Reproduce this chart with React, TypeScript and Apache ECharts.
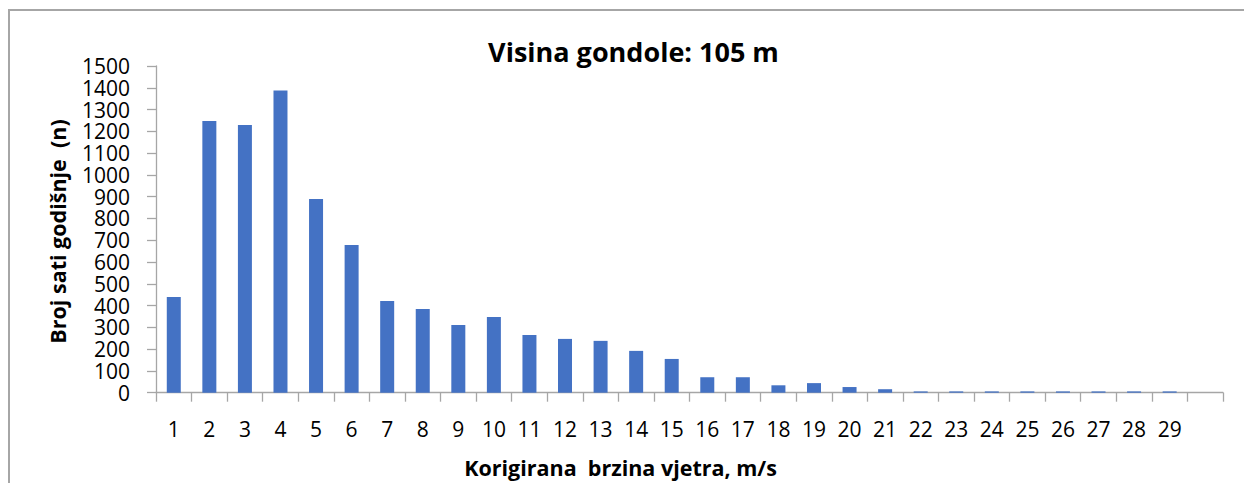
import React, { useEffect, useRef } from "react";
import * as echarts from "echarts";

const categories: string[] = [
  "1", "2", "3", "4", "5", "6", "7", "8", "9", "10",
  "11", "12", "13", "14", "15", "16", "17", "18", "19", "20",
  "21", "22", "23", "24", "25", "26", "27", "28", "29", "",
];
const hours: (number | null)[] = [
  439, 1247, 1229, 1387, 889, 678, 421, 384, 311, 347,
  265, 247, 238, 192, 155, 71, 71, 34, 44, 26,
  16, 6, 6, 6, 6, 6, 6, 6, 6, null,
];
const chartTitle = "Visina gondole: 105 m";
const xTitle = "Korigirana  brzina vjetra, m/s";
const yTitle = "Broj sati godišnje  (n)";

const FONT = "'Open Sans', Lato, sans-serif";
const AXIS_COLOR = "#a6a6a6";

export default function App() {
  const ref = useRef<HTMLDivElement>(null);
  useEffect(() => {
    if (!ref.current) return;
    const chart = echarts.init(ref.current, undefined, { renderer: "svg" });
    chart.setOption({
      animation: false,
      backgroundColor: "#ffffff",
      grid: { left: 148, top: 58, right: 21, bottom: 90.3, containLabel: false },
      xAxis: {
        type: "category",
        data: categories,
        boundaryGap: true,
        axisLine: { show: true, lineStyle: { color: AXIS_COLOR, width: 1.3 } },
        axisTick: {
          show: true,
          alignWithLabel: false,
          interval: 0,
          length: 9,
          lineStyle: { color: AXIS_COLOR, width: 1.3 },
        },
        axisLabel: {
          interval: 0,
          margin: 26,
          color: "#000",
          fontFamily: FONT,
          fontSize: 21,
        },
        splitLine: { show: false },
      },
      yAxis: {
        type: "value",
        min: 0,
        max: 1500,
        interval: 100,
        axisLine: { show: true, lineStyle: { color: AXIS_COLOR, width: 1.3 } },
        axisTick: { show: true, length: 9, lineStyle: { color: AXIS_COLOR, width: 1.3 } },
        axisLabel: {
          margin: 26,
          color: "#000",
          fontFamily: FONT,
          fontSize: 21,
          lineHeight: 20,
          formatter: (v: number) => String(v),
        },
        splitLine: { show: false },
      },
      series: [
        {
          type: "bar",
          data: hours,
          barWidth: 14,
          itemStyle: { color: "#4472c4" },
        },
      ],
      graphic: [
        {
          type: "rect",
          silent: true,
          shape: { x: 1, y: 2, width: 1400, height: 1000 },
          style: { fill: "none", stroke: AXIS_COLOR, lineWidth: 2 },
        },
        {
          type: "text",
          x: 625.5,
          y: 43,
          style: {
            text: chartTitle,
            fontFamily: FONT,
            fontWeight: "bold",
            fontSize: 27,
            fill: "#000",
            textAlign: "center",
            textVerticalAlign: "middle",
          },
        },
        {
          type: "text",
          x: 612.5,
          y: 459,
          style: {
            text: xTitle,
            fontFamily: FONT,
            fontWeight: "bold",
            fontSize: 21.5,
            fill: "#000",
            textAlign: "center",
            textVerticalAlign: "middle",
          },
        },
        {
          type: "text",
          x: 49,
          y: 223.5,
          rotation: Math.PI / 2,
          style: {
            text: yTitle,
            fontFamily: FONT,
            fontWeight: "bold",
            fontSize: 21.5,
            fill: "#000",
            textAlign: "center",
            textVerticalAlign: "middle",
          },
        },
      ],
    });
    return () => chart.dispose();
  }, []);
  return <div ref={ref} style={{ width: 1236, height: 475 }} />;
}
